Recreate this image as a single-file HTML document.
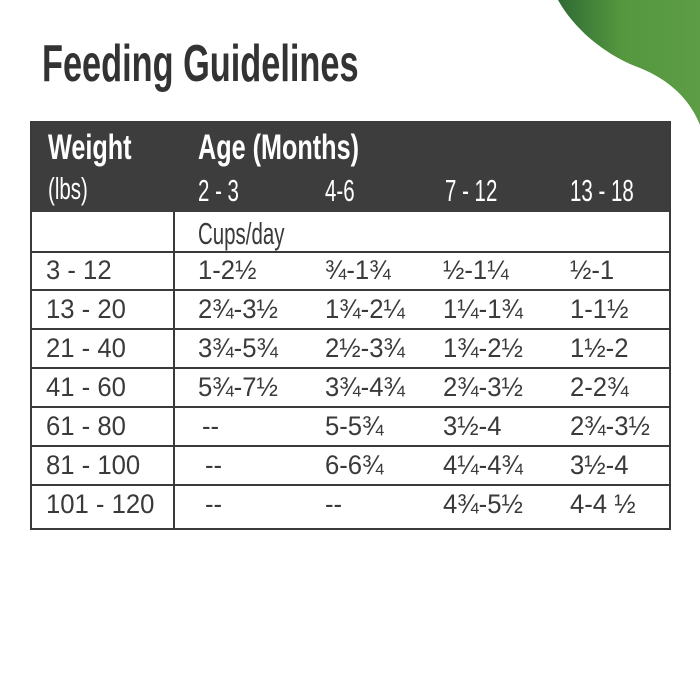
<!DOCTYPE html>
<html><head><meta charset="utf-8"><style>
html,body{margin:0;padding:0;background:#fff;}
body{width:700px;height:700px;position:relative;overflow:hidden;font-family:"Liberation Sans",sans-serif;color:#3a3a3a;}
.t{position:absolute;white-space:nowrap;transform-origin:0 0;}
.c{transform:scaleX(0.72);font-weight:bold;}
.r{font-size:27px;line-height:27px;transform:scaleX(0.95);}
.h{color:#fff;}
.s{font-size:31px;font-weight:normal;transform:scaleX(0.66);}
.line{position:absolute;background:#3a3a3a;}
</style></head><body>
<svg style="position:absolute;left:0;top:0" width="700" height="700">
<defs><linearGradient id="g" x1="0" y1="0" x2="1" y2="0">
<stop offset="0" stop-color="#2f6b34"/><stop offset="0.45" stop-color="#55973f"/><stop offset="1" stop-color="#5c9d45"/></linearGradient></defs>
<path d="M558,0 C575,30 605,55 640,68 C670,80 690,100 700,125 L700,0 Z" fill="url(#g)"/>
<rect x="30" y="121" width="641" height="91" fill="#3d3d3d"/>
</svg>
<div class="t c" style="left:42px;top:36px;font-size:52px;line-height:56px;color:#333;transform:scaleX(0.66);">Feeding Guidelines</div>
<div class="t c h" style="left:48px;top:128px;font-size:35px;">Weight</div>
<div class="t s h" style="left:48px;top:171px;">(lbs)</div>
<div class="t c h" style="left:198px;top:128px;font-size:35px;">Age (Months)</div>
<div class="t s h" style="left:198px;top:173px;">2 - 3</div>
<div class="t s h" style="left:325px;top:173px;">4-6</div>
<div class="t s h" style="left:445px;top:173px;">7 - 12</div>
<div class="t s h" style="left:570px;top:173px;">13 - 18</div>
<div class="t s" style="left:198px;top:216px;">Cups/day</div>
<!-- borders -->
<div class="line" style="left:30px;top:121px;width:2px;height:409px"></div>
<div class="line" style="left:669px;top:121px;width:2px;height:409px"></div>
<div class="line" style="left:173px;top:212px;width:2px;height:318px"></div>
<div class="line" style="left:30px;top:528px;width:641px;height:2px"></div>
<div class="line" style="left:30px;top:251px;width:641px;height:2px"></div>
<div class="line" style="left:30px;top:289px;width:641px;height:2px"></div>
<div class="line" style="left:30px;top:328px;width:641px;height:2px"></div>
<div class="line" style="left:30px;top:367px;width:641px;height:2px"></div>
<div class="line" style="left:30px;top:406px;width:641px;height:2px"></div>
<div class="line" style="left:30px;top:445px;width:641px;height:2px"></div>
<div class="line" style="left:30px;top:484px;width:641px;height:2px"></div>
<!-- rows -->
<div class="t r" style="left:46px;top:257px">3 - 12</div>
<div class="t r" style="left:198px;top:257px">1-2½</div>
<div class="t r" style="left:325px;top:257px">¾-1¾</div>
<div class="t r" style="left:443px;top:257px">½-1¼</div>
<div class="t r" style="left:570px;top:257px">½-1</div>

<div class="t r" style="left:46px;top:296px">13 - 20</div>
<div class="t r" style="left:198px;top:296px">2¾-3½</div>
<div class="t r" style="left:325px;top:296px">1¾-2¼</div>
<div class="t r" style="left:443px;top:296px">1¼-1¾</div>
<div class="t r" style="left:570px;top:296px">1-1½</div>

<div class="t r" style="left:46px;top:335px">21 - 40</div>
<div class="t r" style="left:198px;top:335px">3¾-5¾</div>
<div class="t r" style="left:325px;top:335px">2½-3¾</div>
<div class="t r" style="left:443px;top:335px">1¾-2½</div>
<div class="t r" style="left:570px;top:335px">1½-2</div>

<div class="t r" style="left:46px;top:374px">41 - 60</div>
<div class="t r" style="left:198px;top:374px">5¾-7½</div>
<div class="t r" style="left:325px;top:374px">3¾-4¾</div>
<div class="t r" style="left:443px;top:374px">2¾-3½</div>
<div class="t r" style="left:570px;top:374px">2-2¾</div>

<div class="t r" style="left:46px;top:413px">61 - 80</div>
<div class="t r" style="left:202px;top:413px">--</div>
<div class="t r" style="left:325px;top:413px">5-5¾</div>
<div class="t r" style="left:443px;top:413px">3½-4</div>
<div class="t r" style="left:570px;top:413px">2¾-3½</div>

<div class="t r" style="left:46px;top:452px">81 - 100</div>
<div class="t r" style="left:205px;top:452px">--</div>
<div class="t r" style="left:325px;top:452px">6-6¾</div>
<div class="t r" style="left:443px;top:452px">4¼-4¾</div>
<div class="t r" style="left:570px;top:452px">3½-4</div>

<div class="t r" style="left:46px;top:491px">101 - 120</div>
<div class="t r" style="left:205px;top:491px">--</div>
<div class="t r" style="left:325px;top:491px">--</div>
<div class="t r" style="left:443px;top:491px">4¾-5½</div>
<div class="t r" style="left:570px;top:491px">4-4 ½</div>
</body></html>
